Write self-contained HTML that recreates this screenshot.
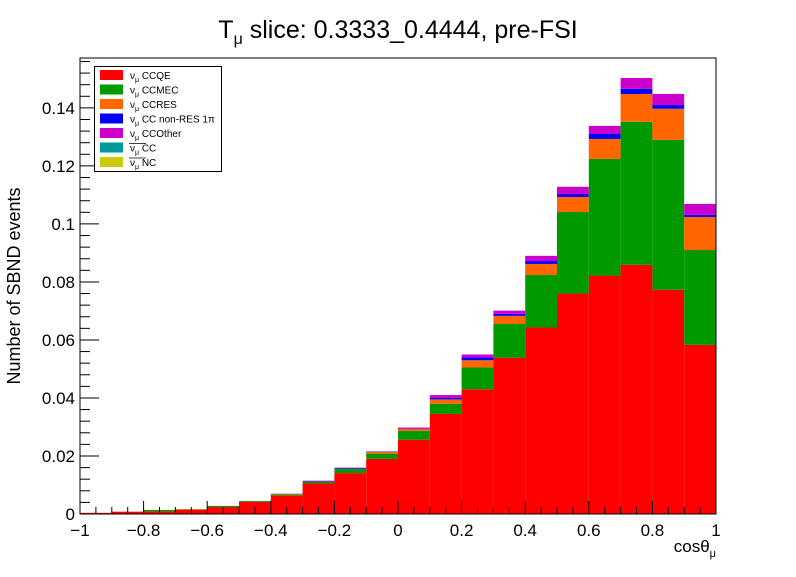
<!DOCTYPE html>
<html><head><meta charset="utf-8"><style>
body{margin:0;background:#fff;font-family:"Liberation Sans",sans-serif;}
</style></head><body>
<svg id="c" width="796" height="572" xmlns="http://www.w3.org/2000/svg" font-family="Liberation Sans, sans-serif">
<text x="398" y="38" font-size="25" text-anchor="middle">T<tspan font-size="16" dy="6">μ</tspan><tspan dy="-6"> slice: 0.3333_0.4444, pre-FSI</tspan></text>
<g id="bars"></g>
<g id="axes"></g>
<text transform="translate(20,286) rotate(-90)" font-size="18" text-anchor="middle">Number of SBND events</text>
<text x="716" y="552" font-size="17" text-anchor="end">cosθ<tspan font-size="11" dy="5">μ</tspan></text>
<g id="legend"></g>
</svg>
<script>
const binEdgesStart = -1, binWidth = 0.1;
const ccqe = [0.0004,0.0008,0.0009,0.0015,0.0024,0.0042,0.0063,0.0105,0.0141,0.019,0.0256,0.0345,0.043,0.0539,0.0643,0.076,0.0822,0.0859,0.0773,0.0583];
const ccmec = [0,0,0.0005,0.0001,0.0004,0.0003,0.0004,0.0006,0.0014,0.0018,0.003,0.0035,0.0075,0.0116,0.0181,0.0281,0.0402,0.0493,0.0517,0.0327];
const ccres = [0,0,0,0.0001,0,0,0.0002,0.0001,0.0001,0.0006,0.0007,0.0015,0.0025,0.0028,0.0038,0.0052,0.0069,0.0096,0.0107,0.0114];
const ccnonres = [0,0,0,0,0,0,0,0.0002,0.0003,0.0001,0.0001,0.0005,0.001,0.0007,0.001,0.001,0.0017,0.0018,0.0013,0.0007];
const ccother = [0,0,0,0,0,0,0.0001,0.0001,0.0001,0.0001,0.0004,0.001,0.001,0.0011,0.0018,0.0025,0.0028,0.0037,0.0038,0.0038];
const antiCC = [0,0,0,0,0,0,0,0,0,0,0,0,0,0,0,0,0,0,0,0];
const antiNC = [0,0,0,0,0,0,0,0,0,0,0,0,0,0,0,0,0,0,0,0];
const yTicks = [0,0.02,0.04,0.06,0.08,0.1,0.12,0.14];
const yTickLabels = ["0","0.02","0.04","0.06","0.08","0.1","0.12","0.14"];
const xTicks = [-1,-0.8,-0.6,-0.4,-0.2,0,0.2,0.4,0.6,0.8,1];
const xTickLabels = ["−1","−0.8","−0.6","−0.4","−0.2","0","0.2","0.4","0.6","0.8","1"];
const legendLabels = ["CCQE","CCMEC","CCRES","CC non-RES 1π","CCOther","CC","NC"];

const L=80,R=716,T=58,B=514, yMax=0.1572;
const X=v=>L+(v+1)/2*(R-L);
const Y=v=>B-v/yMax*(B-T);
const NS="http://www.w3.org/2000/svg";
function mk(tag,attrs,parent){const e=document.createElementNS(NS,tag);for(const k in attrs)e.setAttribute(k,attrs[k]);parent.appendChild(e);return e;}
const series=[ccqe,ccmec,ccres,ccnonres,ccother,antiCC,antiNC];
const colors=["#ff0000","#009900","#ff6600","#0000ff","#cc00cc","#009999","#cccc00"];
const names=["ccqe","ccmec","ccres","cc-nonres","ccother","antinu-cc","antinu-nc"];
const gb=document.getElementById('bars');
for(let i=0;i<ccqe.length;i++){
  let cum=0;
  const x0=X(binEdgesStart+i*binWidth), x1=X(binEdgesStart+(i+1)*binWidth);
  series.forEach((s,k)=>{
    const v=s[i]; if(v<=0)return;
    const r=mk('rect',{x:x0,y:Y(cum+v),width:x1-x0,height:Y(cum)-Y(cum+v),fill:colors[k]},gb);
    
    
    cum+=v;
  });
}
const ga=document.getElementById('axes');
const fr=mk('rect',{x:L,y:T,width:R-L,height:B-T,fill:'none',stroke:'#000','stroke-width':1},ga);


yTicks.forEach((v,i)=>{
  mk('line',{x1:L,x2:L+19,y1:Y(v),y2:Y(v),stroke:'#000'},ga);
  const t=mk('text',{x:L-5,y:Y(v)+6,'font-size':17,'text-anchor':'end'},ga);
  t.textContent=yTickLabels[i];
  
  
});
for(let v=0.004;v<yMax;v+=0.004){ if(Math.abs(v/0.02-Math.round(v/0.02))<1e-6)continue; mk('line',{x1:L,x2:L+10,y1:Y(v),y2:Y(v),stroke:'#000'},ga);}
xTicks.forEach((v,i)=>{
  mk('line',{x1:X(v),x2:X(v),y1:B,y2:B-13,stroke:'#000'},ga);
  const t=mk('text',{x:X(v),y:B+22,'font-size':17,'text-anchor':'middle'},ga);
  t.textContent=xTickLabels[i];
  
  
});
for(let v=-0.95;v<1;v+=0.05){ if(Math.abs(v/0.2-Math.round(v/0.2))<1e-6)continue; mk('line',{x1:X(v),x2:X(v),y1:B,y2:B-7,stroke:'#000'},ga);}
const gl=document.getElementById('legend');
mk('rect',{x:94.5,y:66.5,width:127,height:105,fill:'#fff',stroke:'#000'},gl);
legendLabels.forEach((lab,k)=>{
  const y=70+k*14.5;
  const sw=mk('rect',{x:100,y:y,width:23,height:10,fill:colors[k]},gl);
  
  
  const t=mk('text',{x:130,y:y+9,'font-size':10},gl);
  
  
  t.innerHTML='ν<tspan font-size="7" dy="3">μ</tspan><tspan dy="-3"> '+lab+'</tspan>';
  if(k>=5) mk('line',{x1:129,x2:146,y1:y+1,y2:y+1,stroke:'#000','stroke-width':0.8},gl);
});
</script>
</body></html>
